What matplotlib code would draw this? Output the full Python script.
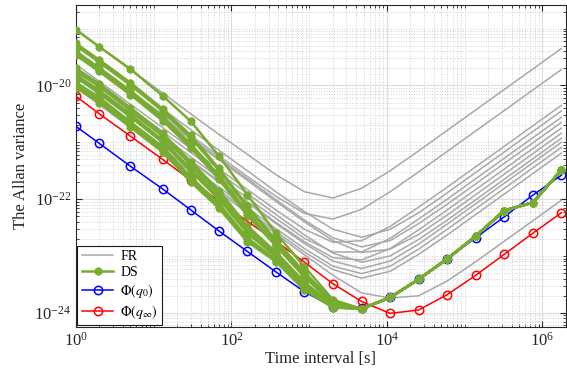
import numpy as np
import matplotlib

matplotlib.use("Agg")
import matplotlib.pyplot as plt
from matplotlib.lines import Line2D
from matplotlib.ticker import LogLocator, NullFormatter

# averaging times [s]
tau = [1, 2, 5, 13, 30, 69, 160, 373, 869, 2024, 4714, 10980, 25570,
       59560, 138700, 323000, 752000, 1750000]

# log10 of the Allan variance, free running clocks (FR)
fr_log = [
    [-19.02, -19.32, -19.72, -20.13, -20.50, -20.86, -21.21, -21.57, -21.87, -21.98, -21.81, -21.50, -21.15, -20.79, -20.43, -20.07, -19.71, -19.35],
    [-19.40, -19.70, -20.10, -20.51, -20.88, -21.24, -21.60, -21.95, -22.25, -22.35, -22.18, -21.87, -21.52, -21.16, -20.80, -20.44, -20.08, -19.72],
    [-19.63, -19.93, -20.33, -20.74, -21.11, -21.47, -21.83, -22.19, -22.53, -22.76, -22.73, -22.48, -22.14, -21.79, -21.43, -21.07, -20.71, -20.35],
    [-19.30, -19.60, -20.00, -20.41, -20.78, -21.14, -21.50, -21.87, -22.22, -22.53, -22.67, -22.53, -22.24, -21.89, -21.53, -21.17, -20.81, -20.45],
    [-19.78, -20.08, -20.48, -20.89, -21.26, -21.62, -21.98, -22.34, -22.69, -22.93, -22.93, -22.69, -22.35, -22.00, -21.64, -21.28, -20.92, -20.56],
    [-19.44, -19.74, -20.14, -20.55, -20.92, -21.28, -21.64, -22.01, -22.37, -22.68, -22.84, -22.73, -22.43, -22.09, -21.73, -21.37, -21.01, -20.65],
    [-19.84, -20.14, -20.54, -20.95, -21.32, -21.68, -22.04, -22.41, -22.75, -23.03, -23.07, -22.87, -22.54, -22.19, -21.83, -21.47, -21.11, -20.75],
    [-19.47, -19.77, -20.17, -20.58, -20.95, -21.31, -21.67, -22.04, -22.40, -22.73, -22.94, -22.88, -22.62, -22.28, -21.92, -21.56, -21.20, -20.84],
    [-19.70, -20.00, -20.40, -20.81, -21.18, -21.54, -21.90, -22.27, -22.63, -22.95, -23.11, -23.00, -22.71, -22.37, -22.01, -21.65, -21.29, -20.93],
    [-19.86, -20.16, -20.56, -20.97, -21.34, -21.70, -22.06, -22.43, -22.78, -23.09, -23.22, -23.09, -22.79, -22.44, -22.08, -21.72, -21.36, -21.00],
    [-19.95, -20.25, -20.65, -21.06, -21.43, -21.79, -22.15, -22.52, -22.87, -23.18, -23.31, -23.18, -22.88, -22.53, -22.17, -21.81, -21.45, -21.09],
    [-20.00, -20.30, -20.70, -21.11, -21.48, -21.84, -22.20, -22.57, -22.93, -23.24, -23.39, -23.27, -22.97, -22.63, -22.27, -21.91, -21.55, -21.19],
    [-20.04, -20.34, -20.74, -21.15, -21.52, -21.88, -22.24, -22.61, -22.98, -23.34, -23.65, -23.74, -23.70, -23.44, -23.10, -22.74, -22.38, -22.02],
]

# disciplined clocks (DS): own values up to 2024 s, common values from 4714 s
ds_head_log = [
    [-19.02, -19.32, -19.71, -20.18, -20.63, -21.24, -21.92, -22.60, -23.19, -23.77],
    [-19.26, -19.55, -19.95, -20.41, -20.88, -21.46, -22.12, -22.72, -23.29, -23.80],
    [-19.30, -19.59, -19.99, -20.45, -20.92, -21.49, -22.15, -22.74, -23.30, -23.81],
    [-19.40, -19.69, -20.09, -20.55, -21.03, -21.58, -22.23, -22.79, -23.34, -23.82],
    [-19.44, -19.72, -20.13, -20.59, -21.07, -21.62, -22.26, -22.81, -23.36, -23.83],
    [-19.47, -19.75, -20.16, -20.62, -21.10, -21.65, -22.29, -22.82, -23.37, -23.83],
    [-19.70, -19.97, -20.39, -20.84, -21.34, -21.85, -22.47, -22.93, -23.46, -23.86],
    [-19.75, -20.02, -20.44, -20.89, -21.40, -21.90, -22.51, -22.96, -23.48, -23.87],
    [-19.82, -20.09, -20.51, -20.96, -21.47, -21.96, -22.57, -22.99, -23.51, -23.88],
    [-19.86, -20.13, -20.55, -21.00, -21.51, -22.00, -22.60, -23.01, -23.53, -23.89],
    [-19.95, -20.21, -20.64, -21.08, -21.61, -22.08, -22.68, -23.06, -23.56, -23.90],
    [-20.00, -20.26, -20.69, -21.13, -21.66, -22.12, -22.72, -23.08, -23.58, -23.90],
    [-20.04, -20.30, -20.73, -21.17, -21.70, -22.16, -22.75, -23.10, -23.60, -23.91],
]
ds_tail_log = [-23.93, -23.73, -23.41, -23.05, -22.65, -22.20, -22.06, -21.49]

# ensemble time scales
q0_log = [-20.72, -21.02, -21.42, -21.82, -22.19, -22.56, -22.92, -23.28, -23.63,
          -23.90, -23.92, -23.73, -23.41, -23.05, -22.68, -22.31, -21.93, -21.58]
qinf_log = [-20.19, -20.50, -20.89, -21.30, -21.67, -22.03, -22.39, -22.74, -23.11,
            -23.49, -23.80, -24.01, -23.95, -23.68, -23.34, -22.97, -22.60, -22.24]

x_ticks = [1e0, 1e2, 1e4, 1e6]
y_ticks = [1e-24, 1e-22, 1e-20]

plt.rcParams["font.family"] = ["Liberation Serif", "DejaVu Serif"]
plt.rcParams["mathtext.fontset"] = "stix"

gray = (0.66, 0.66, 0.66)
green = "#77AC30"
ds_marker = (6, 2, 0)

fig = plt.figure(figsize=(5.67, 3.74), dpi=100)
ax = fig.add_axes([0.134, 0.1265, 0.864, 0.86])

for v in fr_log:
    ax.loglog(tau, 10 ** np.array(v), color=gray, lw=1.1, zorder=2)

ax.loglog(tau, 10 ** np.array(q0_log), color="b", lw=1.1, marker="o",
          ms=6, mfc="none", mew=1.1, zorder=3)
ax.loglog(tau, 10 ** np.array(qinf_log), color="r", lw=1.1, marker="o",
          ms=6, mfc="none", mew=1.1, zorder=3)

for head in ds_head_log:
    v = np.array(head + ds_tail_log)
    ax.loglog(tau, 10 ** v, color=green, lw=1.8, marker=ds_marker, ms=5.5,
              mew=2.2, zorder=4)

ax.set_xlim(1, 2.0e6)
ax.set_ylim(5.7e-25, 2.6e-19)

ax.set_xticks(x_ticks)
ax.set_yticks(y_ticks)
ax.xaxis.set_minor_locator(LogLocator(base=10, subs=np.arange(1, 10), numticks=50))
ax.yaxis.set_minor_locator(LogLocator(base=10, subs=np.arange(1, 10), numticks=50))
ax.xaxis.set_minor_formatter(NullFormatter())
ax.yaxis.set_minor_formatter(NullFormatter())

ax.set_axisbelow(True)
ax.grid(which="major", color="#dedede", lw=0.8, ls="-")
ax.grid(which="minor", color="#d2d2d2", lw=0.7, ls=":")
ax.tick_params(which="both", direction="in", top=True, right=True,
               labelsize=12, colors="0.15", labelcolor="0.15")
ax.tick_params(which="major", length=4)
ax.tick_params(which="minor", length=2)
for s in ax.spines.values():
    s.set_color("0.15")
    s.set_linewidth(0.8)

ax.set_xlabel("Time interval [s]", fontsize=12, color="0.15", labelpad=1)
ax.set_ylabel("The Allan variance", fontsize=12, color="0.15", labelpad=4)

handles = [
    Line2D([], [], color=gray, lw=1.1),
    Line2D([], [], color=green, lw=1.8, marker=ds_marker, ms=5.5, mew=2.2),
    Line2D([], [], color="b", lw=1.1, marker="o", ms=6, mfc="none", mew=1.1),
    Line2D([], [], color="r", lw=1.1, marker="o", ms=6, mfc="none", mew=1.1),
]
labels = ["FR", "DS", r"$\Phi(q_0)$", r"$\Phi(q_\infty)$"]
leg = ax.legend(handles, labels, loc="lower left", fontsize=10,
                handlelength=2.3, borderaxespad=0.1, fancybox=False,
                framealpha=1, edgecolor="0.1", labelspacing=0.22,
                handletextpad=0.5, borderpad=0.3)
leg.get_frame().set_linewidth(0.8)
leg.set_zorder(10)

fig.savefig("out.png", dpi=100)
